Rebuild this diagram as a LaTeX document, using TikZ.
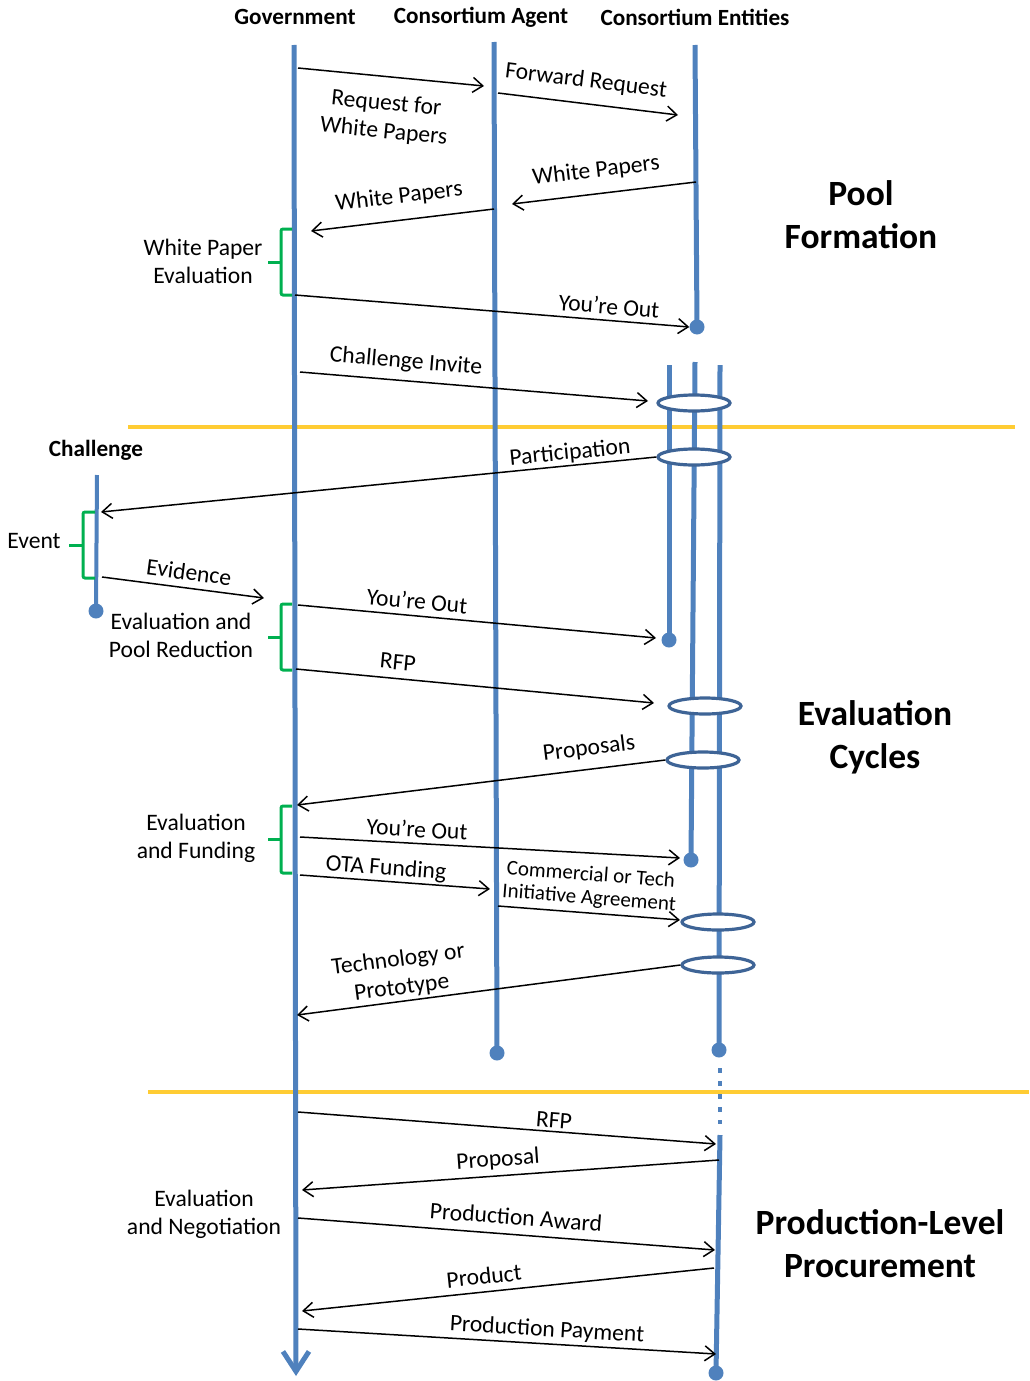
\documentclass[tikz,border=0pt]{standalone}
\usepackage{fontspec}
\setmainfont{Carlito}
\usetikzlibrary{arrows.meta,shapes.geometric}

\definecolor{life}{RGB}{79,129,189}
\definecolor{ringline}{RGB}{62,100,150}
\definecolor{bracegreen}{RGB}{0,176,80}
\definecolor{phaseline}{RGB}{255,204,51}

\begin{document}
\begin{tikzpicture}[x=1pt,y=-1pt,
  lifeline/.style={draw=life,line width=5pt},
  enddot/.style={circle,fill=life,draw=none,inner sep=0pt,minimum size=15pt},
  msg/.style={draw=black,line width=1.5pt,-{Straight Barb[length=10pt,width=15pt]}},
  lbl/.style={inner sep=0pt,align=center,font=\fontsize{23.6}{28}\selectfont},
  small/.style={inner sep=0pt,align=center,font=\fontsize{21}{23}\selectfont},
  hdr/.style={inner sep=0pt,font=\bfseries\fontsize{23.2}{27}\selectfont},
  phase/.style={inner sep=0pt,align=center,font=\bfseries\fontsize{35.5}{43}\selectfont},
  ring/.style={ellipse,draw=ringline,fill=white,line width=3.2pt,inner sep=0pt,
               minimum width=72pt,minimum height=16pt},
  bracket/.style={draw=bracegreen,line width=3pt,rounded corners=2pt},
  divider/.style={draw=phaseline,line width=3.5pt}
]
\useasboundingbox (0,0) rectangle (1029,1381);

% column headers
\node[hdr] (h-gov)   at (295,17) {Government};
\node[hdr] (h-agent) at (481,17) {Consortium Agent};
\node[hdr] (h-ent)   at (695,17) {Consortium Entities};

% phase dividers
\draw[divider] (128,427) -- (1015,427);
\draw[divider] (148,1092) -- (1029,1092);

% lifelines
\draw[lifeline,-{Straight Barb[length=20pt,width=26pt]}] (294,45) -- (296,1376);
\node[enddot] (agent-end) at (497,1053) {};
\draw[lifeline] (494,42) -- (agent-end.center);
\node[enddot] (ent-end) at (697,327) {};
\draw[lifeline] (695,45) -- (ent-end.center);

% entity pool after the challenge invitation
\node[enddot] (pool-a-end) at (669,640) {};
\node[enddot] (pool-b-end) at (691,860) {};
\node[enddot] (pool-c-end) at (719,1050) {};
\draw[lifeline] (669,365) -- (pool-a-end.center);
\draw[lifeline] (695,362) -- (pool-b-end.center);
\draw[lifeline] (720,365) -- (pool-c-end.center);
\draw[draw=life,line width=4.5pt,dash pattern=on 5pt off 8pt] (720,1068) -- (720,1124);
\node[enddot] (final-end) at (716,1373) {};
\draw[lifeline] (720,1135) -- (final-end.center);

% challenge lifeline
\node[hdr] (h-chal) at (96,450) {Challenge};
\node[enddot] (chal-end) at (96,611) {};
\draw[draw=life,line width=4pt] (97,475) -- (chal-end.center);

% groupings of the pool
\node[ring] (g1) at (694,403) {};
\node[ring] (g2) at (694,457) {};
\node[ring] (g3) at (705,706) {};
\node[ring] (g4) at (703,760) {};
\node[ring] (g5) at (718,922) {};
\node[ring] (g6) at (718,965) {};

% brackets for evaluation steps
\draw[bracket] (292,229) -- (281,229) -- (281,295) -- (292,295);
\draw[bracket] (281,262) -- (268,262);
\draw[bracket] (95,512) -- (83,512) -- (83,578) -- (95,578);
\draw[bracket] (83,545) -- (69,545);
\draw[bracket] (292,604) -- (281,604) -- (281,670) -- (292,670);
\draw[bracket] (281,637) -- (268,637);
\draw[bracket] (292,806) -- (281,806) -- (281,873) -- (292,873);
\draw[bracket] (281,839) -- (268,839);

% side labels
\node[lbl] (t-wpe)  at (203,261) {White Paper\\Evaluation};
\node[lbl] (t-evt)  at (34,541) {Event};
\node[lbl] (t-epr)  at (181,635) {Evaluation and\\Pool Reduction};
\node[lbl] (t-ef)   at (196,838) {Evaluation\\and Funding};
\node[lbl] (t-en)   at (204,1214) {Evaluation\\and Negotiation};

% phase titles
\node[phase] (p-pool) at (861,215) {Pool\\Formation};
\node[phase] (p-eval) at (875,737) {Evaluation\\Cycles};
\node[phase] (p-prod) at (880,1244) {Production-Level\\Procurement};

% messages
\draw[msg] (298,68) -- (484,86);
\node[lbl,rotate=-5.5] (m-rwp) at (385,118) {Request for\\White Papers};
\draw[msg] (498,93) -- (678,115);
\node[lbl,rotate=-7] (m-fwd) at (586,81) {Forward Request};
\draw[msg] (696,182) -- (512,204);
\node[lbl,rotate=6.8] (m-wp1) at (596,171) {White Papers};
\draw[msg] (494,209) -- (311,231);
\node[lbl,rotate=6.9] (m-wp2) at (399,197) {White Papers};
\draw[msg] (295,295) -- (ent-end.west);
\node[lbl,rotate=-4.6] (m-out1) at (609,306) {You’re Out};
\draw[msg] (300,372) -- (648,401);
\node[lbl,rotate=-4.8] (m-inv) at (406,362) {Challenge Invite};
\draw[msg] (g2.west) -- (101,512);
\node[lbl,rotate=5.6] (m-part) at (570,453) {Participation};
\draw[msg] (102,577) -- (264,598);
\node[lbl,rotate=-7.4] (m-evd) at (189,572) {Evidence};
\draw[msg] (298,605) -- (656,638);
\node[lbl,rotate=-5.3] (m-out2) at (417,601) {You’re Out};
\draw[msg] (296,669) -- (654,703);
\node[lbl,rotate=-5.4] (m-rfp1) at (398,662) {RFP};
\draw[msg] (g4.west) -- (297,805);
\node[lbl,rotate=7] (m-props) at (589,749) {Proposals};
\draw[msg] (300,837) -- (680,858);
\node[lbl,rotate=-3.2] (m-out3) at (417,829) {You’re Out};
\draw[msg] (300,875) -- (490,889);
\node[lbl,rotate=-4.2] (m-ota) at (386,869) {OTA Funding};
\draw[msg] (498,906) -- (680,920);
\node[small,rotate=-4.4] (m-cta) at (590,887) {Commercial or Tech\\Initiative Agreement};
\draw[msg] (g6.west) -- (297,1015);
\node[lbl,rotate=7.4] (m-tech) at (400,974) {Technology or\\Prototype};
\draw[msg] (298,1112) -- (716,1144);
\node[lbl,rotate=-4.4] (m-rfp2) at (554,1120) {RFP};
\draw[msg] (719,1160) -- (302,1190);
\node[lbl,rotate=4.1] (m-prop) at (498,1160) {Proposal};
\draw[msg] (298,1218) -- (715,1250);
\node[lbl,rotate=-4.4] (m-award) at (516,1217) {Production Award};
\draw[msg] (714,1268) -- (302,1311);
\node[lbl,rotate=6] (m-prod) at (484,1276) {Product};
\draw[msg] (298,1329) -- (716,1354);
\node[lbl,rotate=-3.4] (m-pay) at (547,1330) {Production Payment};
\end{tikzpicture}
\end{document}
